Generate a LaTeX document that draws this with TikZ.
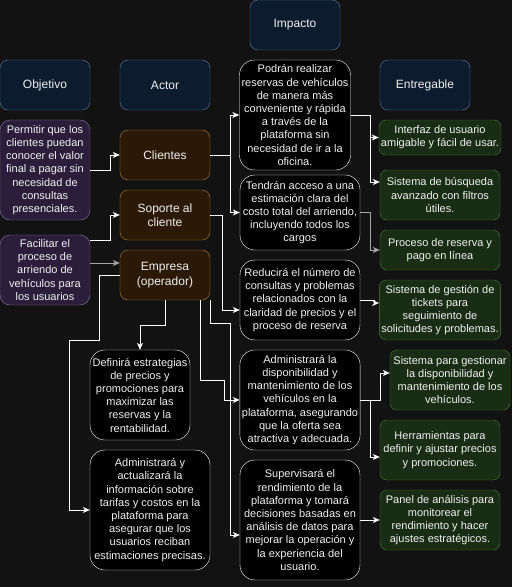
\documentclass[tikz,border=0pt]{standalone}
\usepackage{fontspec}
\setmainfont{Liberation Sans}
\usetikzlibrary{shapes,arrows.meta,positioning}
\definecolor{bgc}{HTML}{121212}
\definecolor{headerfill}{HTML}{0D1B2F}
\definecolor{headerline}{HTML}{5C7CA6}
\definecolor{goalfill}{HTML}{2A1E3A}
\definecolor{goalline}{HTML}{8A76A6}
\definecolor{actorfill}{HTML}{2B1906}
\definecolor{actorline}{HTML}{A77B32}
\definecolor{delivfill}{HTML}{192D15}
\definecolor{delivline}{HTML}{4D7A3B}
\definecolor{txt}{HTML}{F0F0F0}
\tikzstyle{Base} = [text=txt, align=center, inner sep=2pt, font=\fontsize{11}{13.2}\selectfont]
\tikzstyle{Header} = [Base, draw=headerline, fill=headerfill, rounded corners=8pt, minimum width=90pt, minimum height=50pt, font=\fontsize{12}{14.4}\selectfont]
\tikzstyle{Goal} = [Base, draw=goalline, fill=goalfill, rounded corners=10pt, minimum width=90pt]
\tikzstyle{Actor} = [Base, draw=actorline, fill=actorfill, rounded corners=8pt, minimum width=90pt, minimum height=50pt, font=\fontsize{12}{14.4}\selectfont]
\tikzstyle{Impact} = [Base, draw=white, fill=black, rounded corners=15pt]
\tikzstyle{Deliv} = [Base, draw=delivline, fill=delivfill, rounded corners=7pt, minimum width=120pt]
\tikzstyle{Link} = [draw=white, line width=1pt, -{Stealth[length=7pt,width=6pt,inset=2pt]}]
\tikzstyle{GrayLink} = [Link, draw=gray!70]

\begin{document}
\begin{tikzpicture}[x=1pt, y=-1pt]
    \path[use as bounding box, fill=bgc] (0,0) rectangle (512,587);
    % column headers
    \node[Header] (impacto)    at (295,25) {Impacto};
    \node[Header] (objetivo)   at (45,85)  {Objetivo};
    \node[Header] (actor)      at (165,85) {Actor};
    \node[Header] (entregable) at (425,85) {Entregable};
    % objetivos
    \node[Goal, minimum height=100pt] (goal1) at (45,170) {Permitir que los\\clientes puedan\\conocer el valor\\final a pagar sin\\necesidad de\\consultas\\presenciales.};
    \node[Goal, minimum height=70pt]  (goal2) at (45,270) {Facilitar el\\proceso de\\arriendo de\\vehículos para\\los usuarios};
    % actores
    \node[Actor] (clientes) at (165,155) {Clientes};
    \node[Actor] (soporte)  at (165,215) {Soporte al\\cliente};
    \node[Actor] (empresa)  at (165,275) {Empresa\\(operador)};
    % impactos
    \node[Impact, minimum width=110pt, minimum height=110pt] (imp1) at (295,115) {Podrán realizar\\reservas de vehículos\\de manera más\\conveniente y rápida\\a través de la\\plataforma sin\\necesidad de ir a la\\oficina.};
    \node[Impact, minimum width=120pt, minimum height=75pt]  (imp2) at (300,212.5) {Tendrán acceso a una\\estimación clara del\\costo total del arriendo,\\incluyendo todos los\\cargos};
    \node[Impact, minimum width=120pt, minimum height=80pt]  (imp3) at (300,300) {Reducirá el número de\\consultas y problemas\\relacionados con la\\claridad de precios y el\\proceso de reserva};
    \node[Impact, minimum width=120pt, minimum height=100pt] (imp4) at (300,400) {Administrará la\\disponibilidad y\\mantenimiento de los\\vehículos en la\\plataforma, asegurando\\que la oferta sea\\atractiva y adecuada.};
    \node[Impact, minimum width=120pt, minimum height=120pt] (imp5) at (300,520) {Supervisará el\\rendimiento de la\\plataforma y tomará\\decisiones basadas en\\análisis de datos para\\mejorar la operación y\\la experiencia del\\usuario.};
    \node[Impact, minimum width=100pt, minimum height=90pt]  (imp6) at (140,395) {Definirá estrategias\\de precios y\\promociones para\\maximizar las\\reservas y la\\rentabilidad.};
    \node[Impact, minimum width=120pt, minimum height=120pt] (imp7) at (150,510) {Administrará y\\actualizará la\\información sobre\\tarifas y costos en la\\plataforma para\\asegurar que los\\usuarios reciban\\estimaciones precisas.};
    % entregables
    \node[Deliv, minimum height=35pt] (del1) at (440,137.5) {Interfaz de usuario\\amigable y fácil de usar.};
    \node[Deliv, minimum height=50pt] (del2) at (440,195) {Sistema de búsqueda\\avanzado con filtros\\útiles.};
    \node[Deliv, minimum height=40pt] (del3) at (440,250) {Proceso de reserva y\\pago en línea};
    \node[Deliv, minimum height=60pt] (del4) at (440,310) {Sistema de gestión de\\tickets para\\seguimiento de\\solicitudes y problemas.};
    \node[Deliv, minimum height=60pt] (del5) at (450,380) {Sistema para gestionar\\la disponibilidad y\\mantenimiento de los\\vehículos.};
    \node[Deliv, minimum height=60pt] (del6) at (440,450) {Herramientas para\\definir y ajustar precios\\y promociones.};
    \node[Deliv, minimum height=60pt] (del7) at (440,520) {Panel de análisis para\\monitorear el\\rendimiento y hacer\\ajustes estratégicos.};
    % objetivo -> actor
    \draw[Link] (goal1.east) -- ++(20,0) |- (clientes.west);
    \draw[Link] ([yshift=30pt]goal2.east) -- ++(20,0) |- (soporte.west);
    \draw[GrayLink] ([yshift=7pt]goal2.east) -- ([yshift=12pt]empresa.west);
    % actor -> impacto
    \draw[Link] (clientes.east) -- ++(20,0) |- (imp1.west);
    \draw[Link] (clientes.east) -- ++(20,0) |- (imp2.west);
    \draw[Link] (soporte.east) -- ++(12,0) |- ([yshift=-10pt]imp3.west);
    \draw[Link] (empresa.south) -- ++(0,25) -| (imp6.north);
    \draw[Link] ([xshift=35pt]empresa.south) -- ++(0,80) -- ++(24,0) |- (imp4.west);
    \draw[Link] ([xshift=45pt]empresa.south) -- ++(0,23) -- ++(20,0) |- ([yshift=-15pt]imp5.west);
    \draw[Link] (empresa.west) -- ++(-20,0) -- ++(0,65) -- ++(-30,0) |- (imp7.west);
    % impacto -> entregable
    \draw[Link] (imp1.east) -- ++(20,0) |- (del1.west);
    \draw[Link] (imp1.east) -- ++(20,0) |- ([yshift=13pt]del2.west);
    \draw[GrayLink] (imp2.east) -- ++(10,0) |- (del3.west);
    \draw[Link] (imp3.east) -- ++(14,0) |- ([yshift=7pt]del4.west);
    \draw[Link] (imp4.east) -- ++(20,0) |- ([yshift=7pt]del5.west);
    \draw[Link] (imp4.east) -- ++(10,0) |- ([yshift=-7pt]del6.west);
    \draw[Link] (imp5.east) -- (del7.west);
\end{tikzpicture}
\end{document}
